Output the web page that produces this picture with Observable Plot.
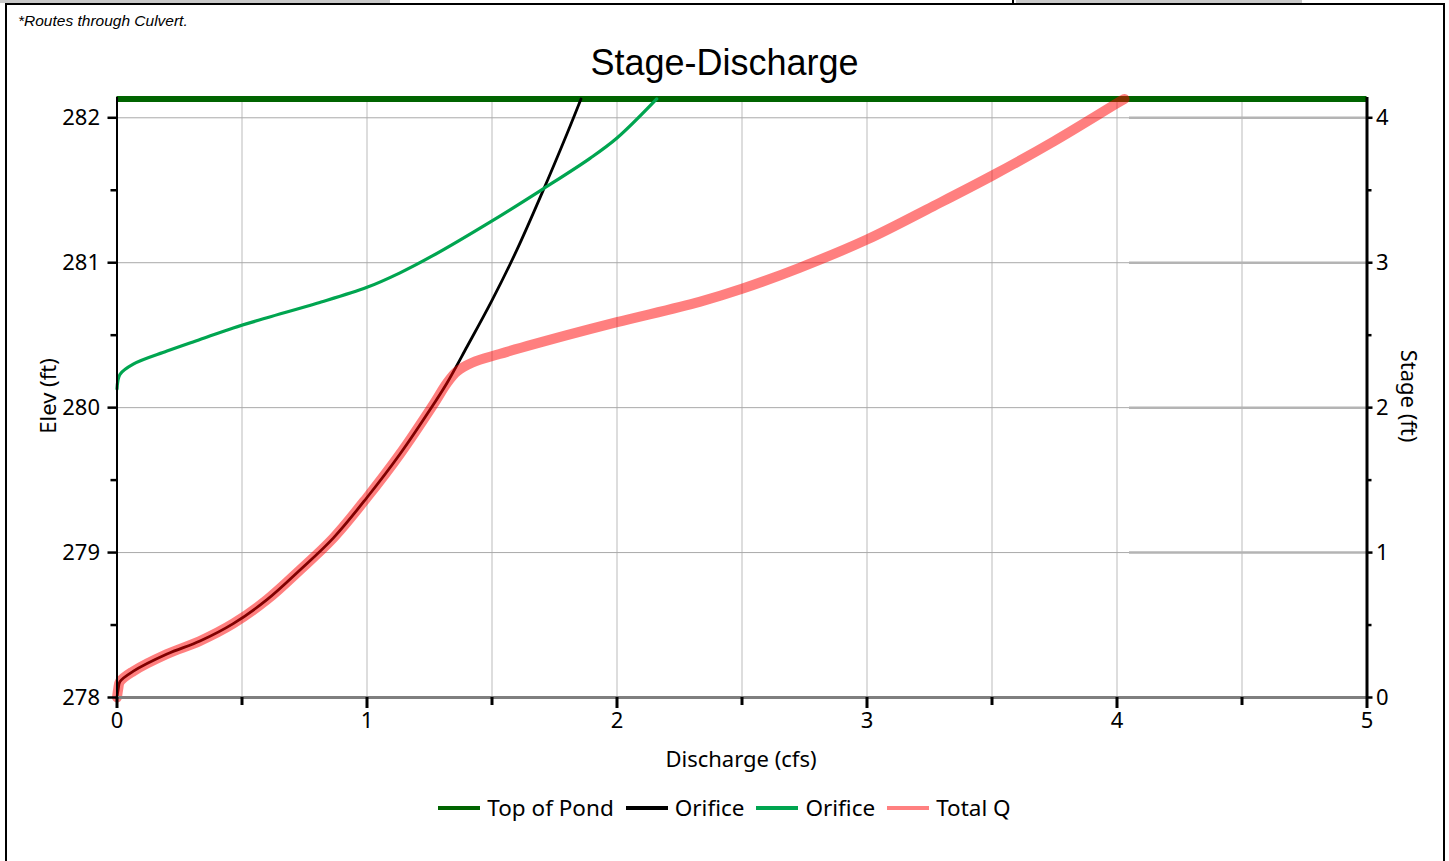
<!DOCTYPE html>
<html>
<head>
<meta charset="utf-8">
<script src="https://cdn.jsdelivr.net/npm/d3@7"></script>
<script src="https://cdn.jsdelivr.net/npm/@observablehq/plot@0.6"></script>
<style>
  html, body { margin: 0; padding: 0; background: #fff; }
  #page { position: relative; width: 1449px; height: 861px; overflow: hidden; background: #fff; }
  .abs { position: absolute; }
  #title { left: 0; width: 1449px; top: 42px; text-align: center; font: 36px "Liberation Sans", Arial, sans-serif; color: #000; }
  #note { left: 18px; top: 12px; font: italic 15.5px "Liberation Sans", Arial, sans-serif; color: #000; }
  #legend { left: 0; width: 1449px; top: 792px; display: flex; justify-content: center; align-items: center; font: 22.5px "Noto Sans", "Open Sans", sans-serif; color: #000; }
  #legend .item { display: flex; align-items: center; margin: 0 6px; }
  #legend .sw { width: 42px; height: 4px; margin-right: 7px; }
  .axlabel { font: 22px "Noto Sans", "Open Sans", sans-serif; color: #000; white-space: nowrap; }
</style>
</head>
<body>
<div id="page">
  <!-- window frame -->
  <div class="abs" style="left:0;top:0;width:390px;height:3px;background:#c8c8c8"></div>
  <div class="abs" style="left:1016px;top:0;width:286px;height:3px;background:#c8c8c8"></div>
  <div class="abs" style="left:1012px;top:0;width:2px;height:4px;background:#000"></div>
  <div class="abs" style="left:5px;top:3px;width:1440px;height:2px;background:#000"></div>
  <div class="abs" style="left:5px;top:3px;width:2px;height:858px;background:#000"></div>
  <div class="abs" style="left:1443px;top:3px;width:2px;height:858px;background:#000"></div>
  <div id="note" class="abs">*Routes through Culvert.</div>
  <div id="chart" class="abs" style="left:0;top:0"></div>
  <div id="title" class="abs">Stage-Discharge</div>
  <div class="abs axlabel" style="left:741px;top:758px;transform:translate(-50%,-50%)">Discharge (cfs)</div>
  <div class="abs axlabel" style="left:47px;top:396px;transform:translate(-50%,-50%) rotate(-90deg)">Elev (ft)</div>
  <div class="abs axlabel" style="left:1410px;top:396px;transform:translate(-50%,-50%) rotate(90deg)">Stage (ft)</div>
  <div id="legend" class="abs"></div>
</div>
<script>
// Pond base elevation and top of pond (ft)
const baseElev = 278;
const topOfPond = 282.13;

// Orifice (low-level) rating: [discharge cfs, elevation ft]
const orificeLow = [
  [0, 278.0], [0.005, 278.06], [0.012, 278.11], [0.064, 278.18], [0.2, 278.30],
  [0.332, 278.39], [0.465, 278.51], [0.6, 278.675], [0.732, 278.88], [0.865, 279.10],
  [1.0, 279.38], [1.132, 279.68], [1.265, 280.02], [1.32, 280.17], [1.4, 280.42],
  [1.5, 280.74], [1.6, 281.09], [1.7, 281.48], [1.8, 281.89], [1.856, 282.13]
];

// Orifice (upper) rating
const orificeHigh = [
  [0, 280.13], [0.003, 280.18], [0.012, 280.23], [0.065, 280.30], [0.2, 280.39],
  [0.332, 280.47], [0.465, 280.55], [0.6, 280.62], [0.8, 280.72], [1.0, 280.83],
  [1.132, 280.93], [1.265, 281.05], [1.492, 281.28], [1.705, 281.51], [1.892, 281.72],
  [2.0, 281.86], [2.159, 282.13]
];

// Combined outflow
const totalQ = [
  [0, 278.0], [0.005, 278.06], [0.012, 278.11], [0.064, 278.18], [0.2, 278.30],
  [0.332, 278.39], [0.465, 278.51], [0.6, 278.675], [0.732, 278.88], [0.865, 279.10],
  [1.0, 279.38], [1.132, 279.68], [1.265, 280.02], [1.32, 280.17], [1.36, 280.25],
  [1.42, 280.31], [1.53, 280.37], [1.8, 280.50], [2.0, 280.59], [2.33, 280.73],
  [2.5, 280.82], [2.73, 280.965], [3.0, 281.16], [3.265, 281.39], [3.5, 281.60],
  [3.75, 281.84], [4.0, 282.10], [4.03, 282.13]
];

// Axis ticks
const xMajor = [0, 1, 2, 3, 4, 5];
const xMinor = [0.5, 1.5, 2.5, 3.5, 4.5];
const elevMajor = [278, 279, 280, 281, 282];
const elevMinor = [278.5, 279.5, 280.5, 281.5];
const stageMajor = [0, 1, 2, 3, 4];

const series = [
  { name: "Top of Pond", color: "#006400" },
  { name: "Orifice", color: "#000000" },
  { name: "Orifice", color: "#00a550" },
  { name: "Total Q", color: "#ff8080" }
];

const font = '"Noto Sans", "Open Sans", sans-serif';
const intFmt = d3.format("d");

const chart = Plot.plot({
  width: 1449,
  height: 861,
  marginLeft: 116.5,
  marginRight: 82.5,
  marginTop: 97,
  marginBottom: 164,
  style: { fontFamily: font, fontSize: "22px", background: "transparent", overflow: "visible" },
  x: { domain: [0, 5] },
  y: { domain: [278, 282.14] },
  marks: [
    // grid
    Plot.ruleX([...xMajor, ...xMinor].filter(d => d > 0 && d < 5), { stroke: "#d2d2d2", strokeWidth: 1.5 }),
    Plot.ruleY(elevMajor.filter(d => d > 278), { stroke: "#a9a9a9", strokeWidth: 1 }),
    Plot.ruleY(stageMajor.filter(d => d > 0).map(s => s + baseElev), { x1: 4.05, x2: 5, stroke: "#b4b4b4", strokeWidth: 2.5 }),
    // top of pond
    Plot.ruleY([topOfPond], { stroke: "#006400", strokeWidth: 6 }),
    // rating curves
    Plot.line(orificeLow, { x: d => d[0], y: d => d[1], stroke: "#000", strokeWidth: 2.8, curve: "catmull-rom" }),
    Plot.line(orificeHigh, { x: d => d[0], y: d => d[1], stroke: "#00a550", strokeWidth: 3.2, curve: "catmull-rom" }),
    Plot.line(totalQ, { x: d => d[0], y: d => d[1], stroke: "red", strokeOpacity: 0.5, strokeWidth: 10, curve: "catmull-rom" }),
    // axis frames
    Plot.ruleY([278], { stroke: "#7f7f7f", strokeWidth: 3 }),
    Plot.ruleX([0], { y1: 278, y2: 282.14, stroke: "#000", strokeWidth: 2 }),
    Plot.ruleX([5], { y1: 278, y2: 282.14, stroke: "#000", strokeWidth: 3 }),
    // bottom axis
    Plot.axisX(xMajor, { anchor: "bottom", tickSize: 11, strokeWidth: 3, stroke: "#000", tickPadding: 4, fontSize: 22, tickFormat: intFmt, label: null }),
    Plot.axisX(xMinor, { anchor: "bottom", tickSize: 8, strokeWidth: 3, stroke: "#000", tickFormat: () => "", label: null }),
    // left elevation axis
    Plot.axisY(elevMajor, { anchor: "left", tickSize: 9, strokeWidth: 2.5, stroke: "#000", tickPadding: 8, fontSize: 22, tickFormat: intFmt, label: null }),
    Plot.axisY(elevMinor, { anchor: "left", tickSize: 6, strokeWidth: 2.5, stroke: "#000", tickFormat: () => "", label: null }),
    // right stage axis
    Plot.axisY(stageMajor.map(s => s + baseElev), { anchor: "right", tickSize: 5, strokeWidth: 2.5, stroke: "#000", tickPadding: 4, fontSize: 22, tickFormat: d => intFmt(d - baseElev), label: null }),
    Plot.axisY(elevMinor, { anchor: "right", tickSize: 4, strokeWidth: 2.5, stroke: "#000", tickFormat: () => "", label: null })
  ]
});
document.getElementById("chart").appendChild(chart);

// legend
const legend = document.getElementById("legend");
for (const s of series) {
  const item = document.createElement("div");
  item.className = "item";
  const sw = document.createElement("span");
  sw.className = "sw";
  sw.style.background = s.color;
  const label = document.createElement("span");
  label.textContent = s.name;
  item.appendChild(sw);
  item.appendChild(label);
  legend.appendChild(item);
}
</script>
</body>
</html>
